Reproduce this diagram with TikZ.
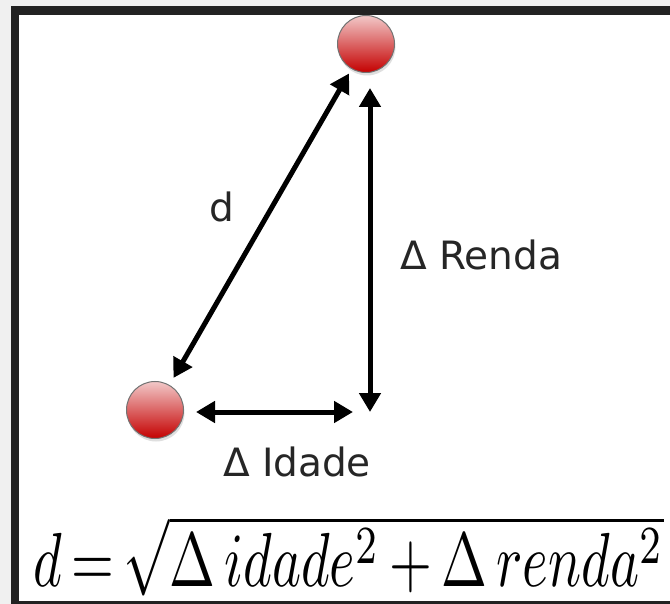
\documentclass[tikz,border=0pt]{standalone}
\usepackage{fontspec}
\setmainfont{DejaVu Sans}
\usepackage{amsmath}
\usepackage{graphicx}
\usepackage{tikz}
\usetikzlibrary{arrows.meta, shadows}
\definecolor{framedark}{RGB}{34, 34, 34}
\definecolor{outergray}{RGB}{240, 240, 240}
\definecolor{balltop}{RGB}{242, 200, 200}
\definecolor{ballbottom}{RGB}{196, 0, 0}

\begin{document}
\begin{tikzpicture}[
  x=1pt, y=-1pt,
  ball/.style={circle, minimum size=57pt, inner sep=0pt, draw=black!55, line width=1pt, top color=balltop, bottom color=ballbottom, drop shadow={opacity=0.25, shadow xshift=1pt, shadow yshift=-3pt}},
  dist/.style={{Triangle[length=19pt, width=21pt]}-{Triangle[length=19pt, width=21pt]}, line width=5pt, color=black},
  lbl/.style={font=\fontsize{39}{45}\selectfont, text=black!85, inner sep=0pt}
]
\useasboundingbox (0,0) rectangle (670,604);

% Frame
\fill[outergray] (0,0) rectangle (670,604);
\fill[framedark] (11,6) rectangle (670,604);
\fill[white] (19,15) rectangle (670,601);

% Balls
\node[ball] (top) at (366,44) {};
\node[ball] (left) at (155,410) {};
\coordinate (corner) at (370,412);

% Distances
\draw[dist, shorten <=8pt, shorten >=5pt] (left) -- (top);
\draw[dist, shorten <=15pt] (top.south -| corner) -- (corner);
\draw[dist, shorten <=12pt, shorten >=17pt] (left.east |- corner) -- (corner);

% Labels
\node[lbl] (dlabel) at (222,207) {d};
\node[lbl] (rendalabel) at (481,255) {Δ Renda};
\node[lbl] (idadelabel) at (297,462) {Δ Idade};

% Formula
\node[anchor=base, inner sep=0pt] (formula) at (349,586) {\resizebox{630pt}{70pt}{$d\,{=}\,\sqrt{\Delta\, idade^2\,{+}\,\Delta\, renda^2}$}};

\end{tikzpicture}
\end{document}
